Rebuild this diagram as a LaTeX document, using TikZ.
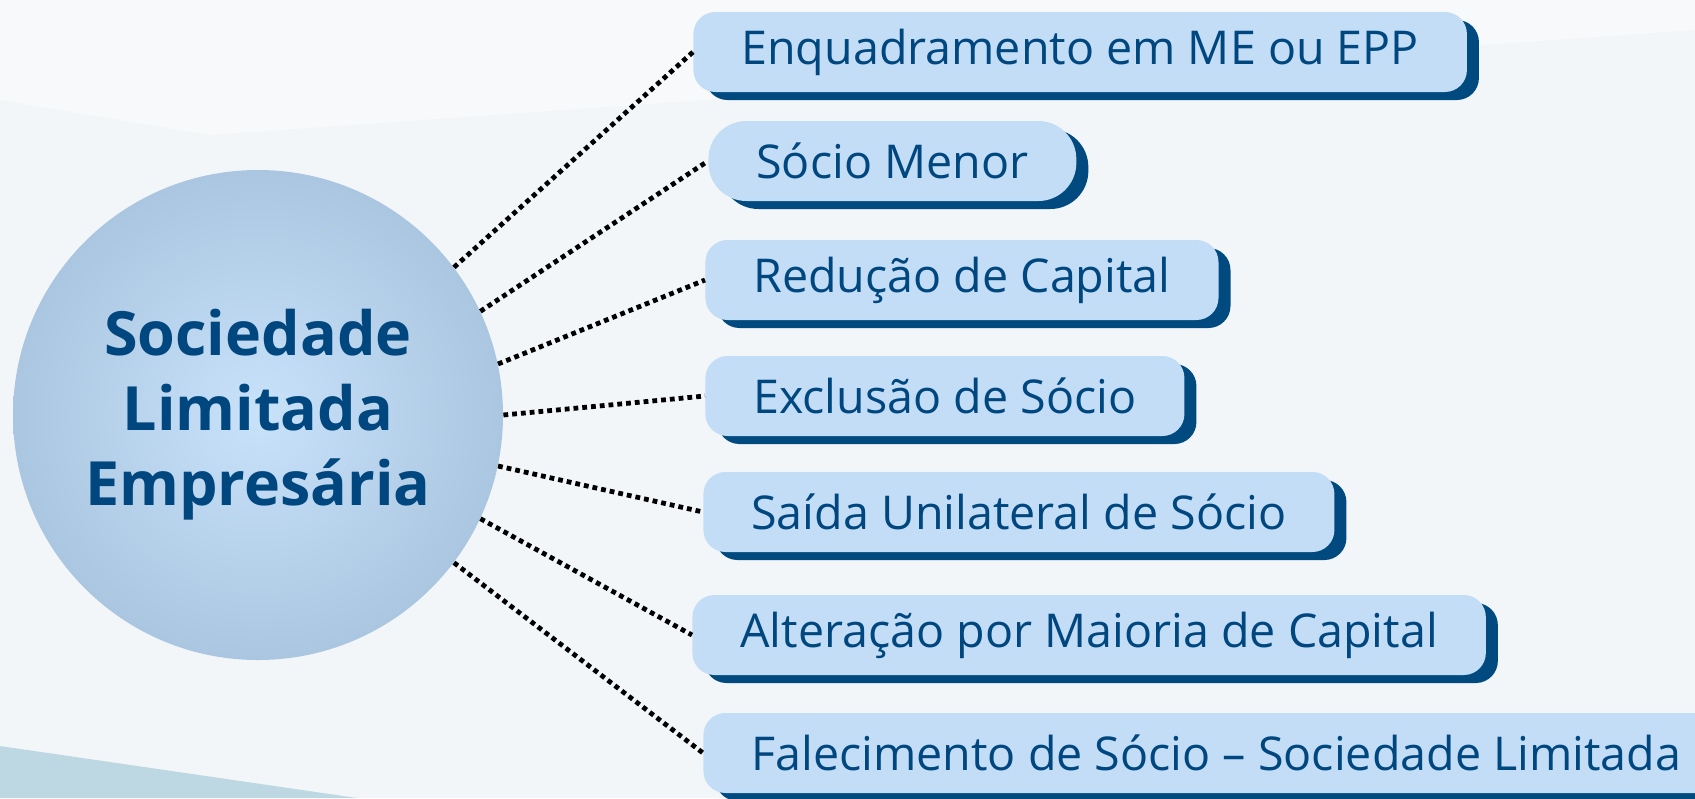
\documentclass[tikz,border=0pt]{standalone}
\usepackage{fontspec}
\setmainfont{Open Sans}
\usepackage{xcolor}
\usetikzlibrary{calc,positioning,shadows}

\definecolor{slnavy}{HTML}{00467F}
\definecolor{slbox}{HTML}{C2DDF5}
\definecolor{slshadow}{HTML}{004A7F}
\definecolor{slback}{HTML}{F3F6F9}
\definecolor{slglow}{HTML}{C8E2FA}
\definecolor{slrim}{HTML}{ABC6E0}
\definecolor{slband}{HTML}{BDD8E3}

\begin{document}
\begin{tikzpicture}[x=0.5pt, y=-0.5pt,
                link/.style={draw=black, dotted, line width=2.4pt}]
        \tikzset{
                hub/.style   = {circle, minimum size=245pt, inner sep=0pt, align=center,
                                font=\bfseries\fontsize{30.5}{37.5}\selectfont, text=slnavy,
                                shade, inner color=slglow, outer color=slrim},
                topic/.style = {rectangle, rounded corners=11pt, fill=slbox, text=slnavy,
                                font=\fontsize{23.3}{28}\selectfont, minimum height=40pt,
                                inner xsep=24pt, anchor=west,
                                drop shadow={shadow xshift=6pt, shadow yshift=-4pt,
                                             opacity=1, fill=slshadow}}
        }
        \useasboundingbox (0,0) rectangle (1695,798);
        % background
        \fill[slback] (0,0) rectangle (1695,798);
        \fill[white, opacity=0.35] (0,0) -- (0,100) -- (210,135) -- (1695,30) -- (1695,0) -- cycle;
        \fill[slband] (0,746) -- (357,798) -- (0,798) -- cycle;

        % the central circle
        \node[hub] (hub) at (258,415) {Sociedade\\Limitada\\Empresária};

        % the topics, placed at their left edges
        \node[topic] (t1) at (693,52)  {Enquadramento em ME ou EPP};
        \node[topic, rounded corners=19pt] (t2) at (708,161) {Sócio Menor};
        \node[topic] (t3) at (705,280) {Redução de Capital};
        \node[topic] (t4) at (705,396) {Exclusão de Sócio};
        \node[topic] (t5) at (703,512) {Saída Unilateral de Sócio};
        \node[topic] (t6) at (692,635) {Alteração por Maioria de Capital};
        \node[topic] (t7) at (703,753) {Falecimento de Sócio – Sociedade Limitada};

        % dotted links from the circle to every topic
        \foreach \topic/\angle in {1/37.5, 2/25, 3/12.5, 4/0, 5/-12.5, 6/-25, 7/-37.5} {
                \draw[link] (hub.\angle) -- (t\topic.west);
        }
\end{tikzpicture}
\end{document}
